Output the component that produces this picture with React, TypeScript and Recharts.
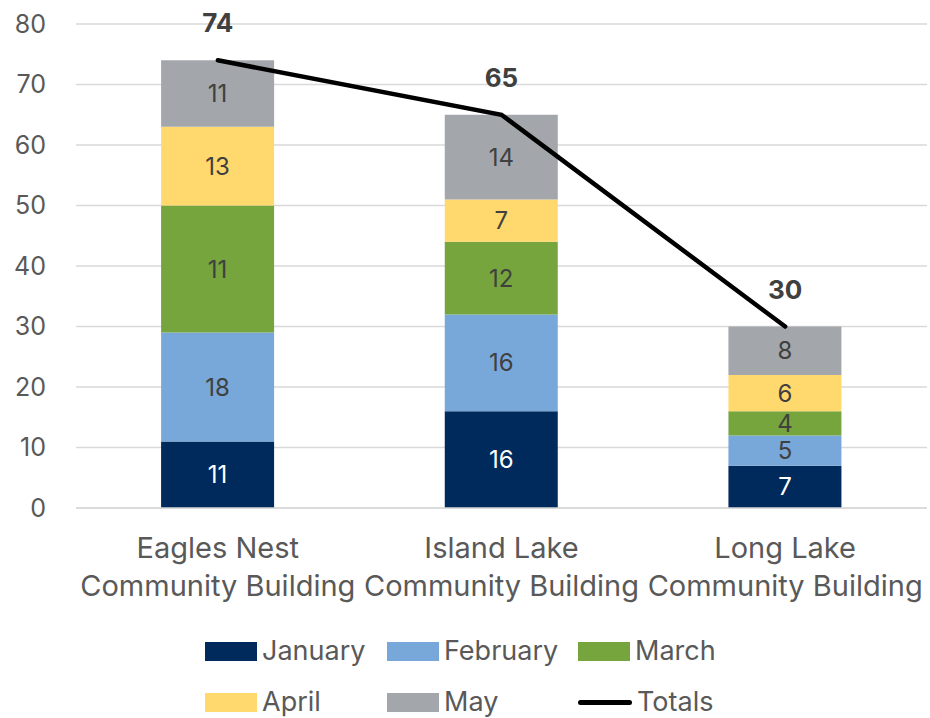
import React from "react";
import { ComposedChart, Bar, Line, XAxis, YAxis, CartesianGrid, LabelList } from "recharts";

const categories = [
  "Eagles Nest Community Building",
  "Island Lake Community Building",
  "Long Lake Community Building",
];
const januaryValues = [11, 16, 7];
const februaryValues = [18, 16, 5];
const marchValues = [21, 12, 4];
// label text as printed in the reference
const marchLabels = ["11", "12", "4"];
const aprilValues = [13, 7, 6];
const mayValues = [11, 14, 8];
const totalValues = [74, 65, 30];
const yTicks = [0, 10, 20, 30, 40, 50, 60, 70, 80];

const COLORS = {
  january: "#002A5C",
  february: "#78A8D9",
  march: "#76A43D",
  april: "#FFD96E",
  may: "#A3A7AB",
  total: "#000000",
};

const data = categories.map((name, i) => ({
  name,
  january: januaryValues[i],
  february: februaryValues[i],
  march: marchValues[i],
  marchLabel: marchLabels[i],
  april: aprilValues[i],
  may: mayValues[i],
  total: totalValues[i],
}));

const FONT = "Inter, 'Open Sans', sans-serif";
const TEXT = "#595959";
const LABEL = "#404040";

const CategoryTick = (props: any) => {
  const { x, y, payload } = props;
  const v: string = payload.value;
  const idx = v.indexOf("Community");
  const l1 = v.slice(0, idx).trim();
  const l2 = v.slice(idx);
  return (
    <text x={x} y={y} textAnchor="middle" fill={TEXT} fontSize={29} fontFamily={FONT}>
      <tspan x={x} dy={42}>{l1}</tspan>
      <tspan x={x} dy={38}>{l2}</tspan>
    </text>
  );
};

const legendItems = [
  { key: "january", label: "January", type: "rect" },
  { key: "february", label: "February", type: "rect" },
  { key: "march", label: "March", type: "rect" },
  { key: "april", label: "April", type: "rect" },
  { key: "may", label: "May", type: "rect" },
  { key: "total", label: "Totals", type: "line" },
];

const colX = [205, 387, 578];
const rowY = [651, 702];

export default function App() {
  return (
    <div style={{ position: "absolute", left: 0, top: 0, width: 930, height: 718, background: "#fff", overflow: "hidden" }}>
      <ComposedChart
        width={930}
        height={620}
        data={data}
        margin={{ top: 24, right: 3, left: 0, bottom: 0 }}
        barCategoryGap="30%"
      >
        <CartesianGrid vertical={false} stroke="#D9D9D9" strokeWidth={1.5} />
        <XAxis
          dataKey="name"
          height={112}
          axisLine={{ stroke: "#D9D9D9", strokeWidth: 1.5 }}
          tickLine={false}
          tick={<CategoryTick />}
          interval={0}
        />
        <YAxis
          width={76}
          domain={[0, 80]}
          ticks={yTicks}
          axisLine={false}
          tickLine={false}
          tickMargin={24}
          tick={{ fill: TEXT, fontSize: 25, fontFamily: FONT }}
        />
        <Bar dataKey="january" stackId="a" fill={COLORS.january} isAnimationActive={false}>
          <LabelList dataKey="january" position="center" fill="#FFFFFF" fontSize={24} fontFamily={FONT} />
        </Bar>
        <Bar dataKey="february" stackId="a" fill={COLORS.february} isAnimationActive={false}>
          <LabelList dataKey="february" position="center" fill={LABEL} fontSize={24} fontFamily={FONT} />
        </Bar>
        <Bar dataKey="march" stackId="a" fill={COLORS.march} isAnimationActive={false}>
          <LabelList dataKey="marchLabel" position="center" fill={LABEL} fontSize={24} fontFamily={FONT} />
        </Bar>
        <Bar dataKey="april" stackId="a" fill={COLORS.april} isAnimationActive={false}>
          <LabelList dataKey="april" position="center" fill={LABEL} fontSize={24} fontFamily={FONT} />
        </Bar>
        <Bar dataKey="may" stackId="a" fill={COLORS.may} isAnimationActive={false}>
          <LabelList dataKey="may" position="center" fill={LABEL} fontSize={24} fontFamily={FONT} />
        </Bar>
        <Line
          dataKey="total"
          stroke={COLORS.total}
          strokeWidth={4.5}
          strokeLinecap="round"
          dot={false}
          activeDot={false}
          isAnimationActive={false}
        >
          <LabelList dataKey="total" position="top" offset={28} fill={LABEL} fontSize={26} fontWeight="bold" fontFamily={FONT} />
        </Line>
      </ComposedChart>
      {legendItems.map((it, i) => {
        const x = colX[i % 3];
        const y = rowY[Math.floor(i / 3)];
        return (
          <div
            key={it.key}
            style={{
              position: "absolute",
              left: x,
              top: y - 16,
              height: 32,
              lineHeight: "32px",
              display: "flex",
              alignItems: "center",
              fontFamily: FONT,
              fontSize: 27,
              color: TEXT,
              whiteSpace: "nowrap",
            }}
          >
            {it.type === "rect" ? (
              <span style={{ display: "inline-block", width: 52, height: 19, background: (COLORS as any)[it.key] }} />
            ) : (
              <span style={{ display: "inline-block", width: 54, height: 5, borderRadius: 3, background: COLORS.total }} />
            )}
            <span style={{ marginLeft: 5 }}>{it.label}</span>
          </div>
        );
      })}
    </div>
  );
}
